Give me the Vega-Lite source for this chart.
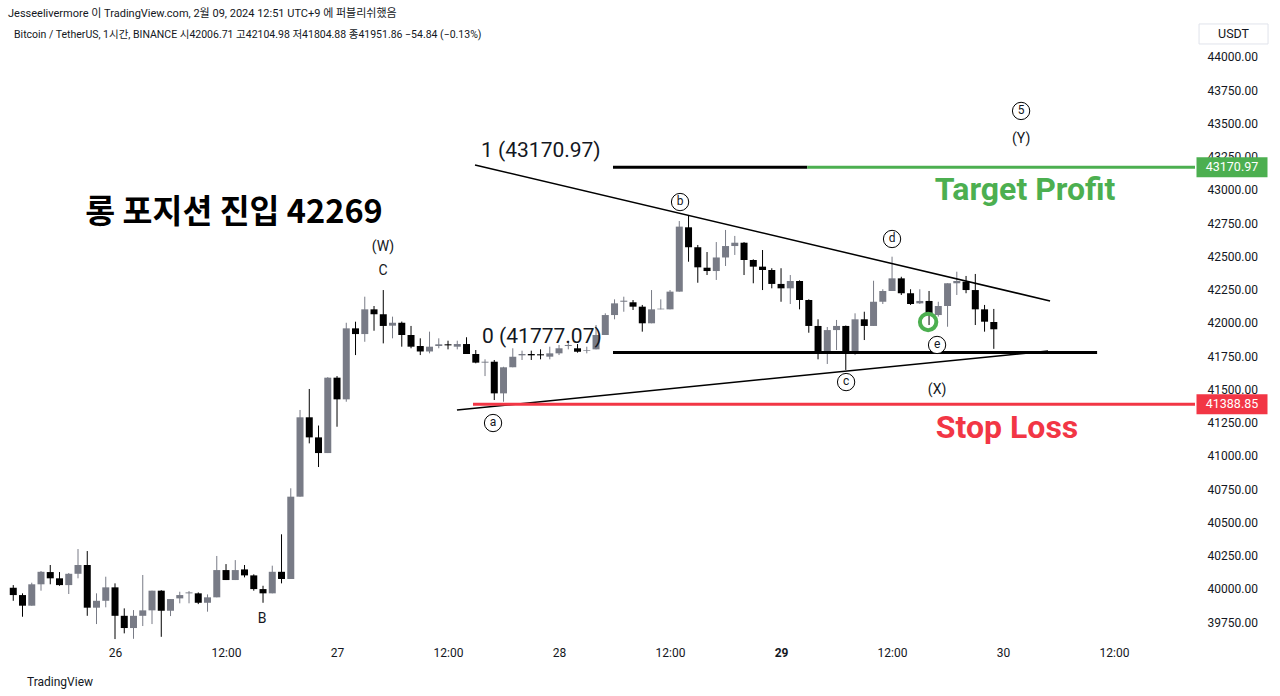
{
  "$schema": "https://vega.github.io/schema/vega-lite/v6.json",
  "width": 1195,
  "height": 620,
  "autosize": {"type": "none"},
  "padding": {"top": 22, "left": 0, "right": 85, "bottom": 54},
  "background": "#ffffff",
  "config": {"font": "Roboto, 'Noto Sans CJK KR', sans-serif", "view": {"stroke": null}, "axis": {"labelOverlap": false}},
  "title": {"text": "Jesseelivermore 이 TradingView.com, 2월 09, 2024 12:51 UTC+9 에 퍼블리쉬했음", "anchor": "start", "frame": "group", "fontSize": 11, "fontWeight": "normal", "color": "#131722", "dx": 8, "offset": 3},
  "datasets": {
    "candles": [
      {"t":"2024-01-25T13:00:00Z","o":40008,"h":40028,"l":39910,"c":39953},
      {"t":"2024-01-25T14:00:00Z","o":39953,"h":39966,"l":39790,"c":39873},
      {"t":"2024-01-25T15:00:00Z","o":39873,"h":40046,"l":39873,"c":40034},
      {"t":"2024-01-25T16:00:00Z","o":40034,"h":40134,"l":39986,"c":40128},
      {"t":"2024-01-25T17:00:00Z","o":40126,"h":40179,"l":40034,"c":40079},
      {"t":"2024-01-25T18:00:00Z","o":40079,"h":40126,"l":40023,"c":40028},
      {"t":"2024-01-25T19:00:00Z","o":40028,"h":40119,"l":39961,"c":40113},
      {"t":"2024-01-25T20:00:00Z","o":40113,"h":40299,"l":40079,"c":40179},
      {"t":"2024-01-25T21:00:00Z","o":40179,"h":40284,"l":39797,"c":39858},
      {"t":"2024-01-25T22:00:00Z","o":39858,"h":39966,"l":39735,"c":39910},
      {"t":"2024-01-25T23:00:00Z","o":39910,"h":40091,"l":39861,"c":40011},
      {"t":"2024-01-26T00:00:00Z","o":40011,"h":40041,"l":39622,"c":39797},
      {"t":"2024-01-26T01:00:00Z","o":39797,"h":39853,"l":39665,"c":39705},
      {"t":"2024-01-26T02:00:00Z","o":39705,"h":39840,"l":39624,"c":39797},
      {"t":"2024-01-26T03:00:00Z","o":39797,"h":40104,"l":39720,"c":39838},
      {"t":"2024-01-26T04:00:00Z","o":39838,"h":39986,"l":39735,"c":39986},
      {"t":"2024-01-26T05:00:00Z","o":39986,"h":39990,"l":39639,"c":39835},
      {"t":"2024-01-26T06:00:00Z","o":39835,"h":39923,"l":39795,"c":39923},
      {"t":"2024-01-26T07:00:00Z","o":39928,"h":39978,"l":39891,"c":39953},
      {"t":"2024-01-26T08:00:00Z","o":39966,"h":39983,"l":39891,"c":39973},
      {"t":"2024-01-26T09:00:00Z","o":39966,"h":39973,"l":39885,"c":39895},
      {"t":"2024-01-26T10:00:00Z","o":39895,"h":39958,"l":39828,"c":39936},
      {"t":"2024-01-26T11:00:00Z","o":39936,"h":40247,"l":39936,"c":40141},
      {"t":"2024-01-26T12:00:00Z","o":40141,"h":40186,"l":40066,"c":40066},
      {"t":"2024-01-26T13:00:00Z","o":40066,"h":40216,"l":40066,"c":40141},
      {"t":"2024-01-26T14:00:00Z","o":40146,"h":40179,"l":40086,"c":40101},
      {"t":"2024-01-26T15:00:00Z","o":40101,"h":40109,"l":39986,"c":39998},
      {"t":"2024-01-26T16:00:00Z","o":39998,"h":40023,"l":39895,"c":39966},
      {"t":"2024-01-26T17:00:00Z","o":39966,"h":40174,"l":39966,"c":40128},
      {"t":"2024-01-26T18:00:00Z","o":40128,"h":40410,"l":40041,"c":40074},
      {"t":"2024-01-26T19:00:00Z","o":40074,"h":40756,"l":40074,"c":40693},
      {"t":"2024-01-26T20:00:00Z","o":40693,"h":41345,"l":40693,"c":41290},
      {"t":"2024-01-26T21:00:00Z","o":41290,"h":41503,"l":41094,"c":41139},
      {"t":"2024-01-26T22:00:00Z","o":41139,"h":41228,"l":40916,"c":41021},
      {"t":"2024-01-26T23:00:00Z","o":41021,"h":41592,"l":41021,"c":41588},
      {"t":"2024-01-27T00:00:00Z","o":41588,"h":41600,"l":41219,"c":41425},
      {"t":"2024-01-27T01:00:00Z","o":41425,"h":42001,"l":41407,"c":41959},
      {"t":"2024-01-27T02:00:00Z","o":41959,"h":42009,"l":41758,"c":41916},
      {"t":"2024-01-27T03:00:00Z","o":41916,"h":42197,"l":41858,"c":42102},
      {"t":"2024-01-27T04:00:00Z","o":42102,"h":42127,"l":41941,"c":42065},
      {"t":"2024-01-27T05:00:00Z","o":42065,"h":42247,"l":41846,"c":41977},
      {"t":"2024-01-27T06:00:00Z","o":41979,"h":42047,"l":41884,"c":42001},
      {"t":"2024-01-27T07:00:00Z","o":42001,"h":42010,"l":41821,"c":41909},
      {"t":"2024-01-27T08:00:00Z","o":41909,"h":41977,"l":41809,"c":41821},
      {"t":"2024-01-27T09:00:00Z","o":41826,"h":41884,"l":41758,"c":41785},
      {"t":"2024-01-27T10:00:00Z","o":41785,"h":41934,"l":41771,"c":41821},
      {"t":"2024-01-27T11:00:00Z","o":41826,"h":41884,"l":41809,"c":41839},
      {"t":"2024-01-27T12:00:00Z","o":41839,"h":41866,"l":41801,"c":41831},
      {"t":"2024-01-27T13:00:00Z","o":41821,"h":41866,"l":41801,"c":41841},
      {"t":"2024-01-27T14:00:00Z","o":41841,"h":41892,"l":41766,"c":41766},
      {"t":"2024-01-27T15:00:00Z","o":41766,"h":41796,"l":41696,"c":41701},
      {"t":"2024-01-27T16:00:00Z","o":41701,"h":41726,"l":41600,"c":41708},
      {"t":"2024-01-27T17:00:00Z","o":41708,"h":41721,"l":41420,"c":41470},
      {"t":"2024-01-27T18:00:00Z","o":41470,"h":41670,"l":41407,"c":41666},
      {"t":"2024-01-27T19:00:00Z","o":41666,"h":41809,"l":41666,"c":41746},
      {"t":"2024-01-27T20:00:00Z","o":41756,"h":41791,"l":41721,"c":41766},
      {"t":"2024-01-27T21:00:00Z","o":41766,"h":41791,"l":41721,"c":41756},
      {"t":"2024-01-27T22:00:00Z","o":41764,"h":41801,"l":41726,"c":41756},
      {"t":"2024-01-27T23:00:00Z","o":41746,"h":41821,"l":41726,"c":41771},
      {"t":"2024-01-28T00:00:00Z","o":41771,"h":41834,"l":41758,"c":41809},
      {"t":"2024-01-28T01:00:00Z","o":41826,"h":41866,"l":41801,"c":41834},
      {"t":"2024-01-28T02:00:00Z","o":41809,"h":41841,"l":41776,"c":41783},
      {"t":"2024-01-28T03:00:00Z","o":41791,"h":41821,"l":41771,"c":41796},
      {"t":"2024-01-28T04:00:00Z","o":41801,"h":41984,"l":41801,"c":41909},
      {"t":"2024-01-28T05:00:00Z","o":41909,"h":42072,"l":41909,"c":42059},
      {"t":"2024-01-28T06:00:00Z","o":42059,"h":42177,"l":42027,"c":42147},
      {"t":"2024-01-28T07:00:00Z","o":42159,"h":42197,"l":42084,"c":42167},
      {"t":"2024-01-28T08:00:00Z","o":42155,"h":42172,"l":42097,"c":42122},
      {"t":"2024-01-28T09:00:00Z","o":42122,"h":42135,"l":41934,"c":41997},
      {"t":"2024-01-28T10:00:00Z","o":41997,"h":42247,"l":41997,"c":42102},
      {"t":"2024-01-28T11:00:00Z","o":42102,"h":42177,"l":42102,"c":42107},
      {"t":"2024-01-28T12:00:00Z","o":42102,"h":42247,"l":42102,"c":42235},
      {"t":"2024-01-28T13:00:00Z","o":42235,"h":42766,"l":42235,"c":42724},
      {"t":"2024-01-28T14:00:00Z","o":42719,"h":42804,"l":42460,"c":42569},
      {"t":"2024-01-28T15:00:00Z","o":42569,"h":42586,"l":42302,"c":42418},
      {"t":"2024-01-28T16:00:00Z","o":42415,"h":42533,"l":42360,"c":42390},
      {"t":"2024-01-28T17:00:00Z","o":42390,"h":42608,"l":42323,"c":42492},
      {"t":"2024-01-28T18:00:00Z","o":42492,"h":42699,"l":42428,"c":42578},
      {"t":"2024-01-28T19:00:00Z","o":42578,"h":42654,"l":42511,"c":42603},
      {"t":"2024-01-28T20:00:00Z","o":42603,"h":42608,"l":42360,"c":42473},
      {"t":"2024-01-28T21:00:00Z","o":42473,"h":42478,"l":42298,"c":42423},
      {"t":"2024-01-28T22:00:00Z","o":42423,"h":42548,"l":42247,"c":42398},
      {"t":"2024-01-28T23:00:00Z","o":42398,"h":42411,"l":42260,"c":42293},
      {"t":"2024-01-29T00:00:00Z","o":42293,"h":42411,"l":42159,"c":42260},
      {"t":"2024-01-29T01:00:00Z","o":42260,"h":42360,"l":42142,"c":42315},
      {"t":"2024-01-29T02:00:00Z","o":42315,"h":42320,"l":42102,"c":42172},
      {"t":"2024-01-29T03:00:00Z","o":42172,"h":42177,"l":41926,"c":41977},
      {"t":"2024-01-29T04:00:00Z","o":41977,"h":42027,"l":41726,"c":41783},
      {"t":"2024-01-29T05:00:00Z","o":41783,"h":41969,"l":41691,"c":41946},
      {"t":"2024-01-29T06:00:00Z","o":41946,"h":42022,"l":41796,"c":41977},
      {"t":"2024-01-29T07:00:00Z","o":41977,"h":41980,"l":41646,"c":41771},
      {"t":"2024-01-29T08:00:00Z","o":41771,"h":42072,"l":41758,"c":42027},
      {"t":"2024-01-29T09:00:00Z","o":42027,"h":42084,"l":41871,"c":41977},
      {"t":"2024-01-29T10:00:00Z","o":41977,"h":42317,"l":41977,"c":42159},
      {"t":"2024-01-29T11:00:00Z","o":42159,"h":42253,"l":42142,"c":42240},
      {"t":"2024-01-29T12:00:00Z","o":42240,"h":42498,"l":42240,"c":42335},
      {"t":"2024-01-29T13:00:00Z","o":42335,"h":42347,"l":42210,"c":42223},
      {"t":"2024-01-29T14:00:00Z","o":42223,"h":42253,"l":42135,"c":42142},
      {"t":"2024-01-29T15:00:00Z","o":42147,"h":42253,"l":42142,"c":42165},
      {"t":"2024-01-29T16:00:00Z","o":42165,"h":42240,"l":41984,"c":42059},
      {"t":"2024-01-29T17:00:00Z","o":42059,"h":42159,"l":42047,"c":42127},
      {"t":"2024-01-29T18:00:00Z","o":42127,"h":42298,"l":41971,"c":42298},
      {"t":"2024-01-29T19:00:00Z","o":42298,"h":42385,"l":42210,"c":42315},
      {"t":"2024-01-29T20:00:00Z","o":42310,"h":42353,"l":42223,"c":42247},
      {"t":"2024-01-29T21:00:00Z","o":42247,"h":42368,"l":41984,"c":42102},
      {"t":"2024-01-29T22:00:00Z","o":42102,"h":42135,"l":41934,"c":42009},
      {"t":"2024-01-29T23:00:00Z","o":42006.71,"h":42104.98,"l":41804.88,"c":41951.86}
    ],
    "levels": [
      {"name":"fib 1","kind":"fib","t1":"2024-01-28T05:50:00Z","t2":"2024-01-29T02:50:00Z","p":43170.97},
      {"name":"target","kind":"target","t1":"2024-01-29T02:50:00Z","t2":"2024-01-30T20:45:00Z","p":43170.97},
      {"name":"fib 0","kind":"fib","t1":"2024-01-28T05:50:00Z","t2":"2024-01-30T10:10:00Z","p":41777.07},
      {"name":"stop","kind":"stop","t1":"2024-01-27T14:42:00Z","t2":"2024-01-30T20:45:00Z","p":41388.85}
    ],
    "trend": [
      {"name":"upper","t1":"2024-01-27T14:55:00Z","p1":43188,"t2":"2024-01-30T05:05:00Z","p2":42165},
      {"name":"lower","t1":"2024-01-27T12:58:00Z","p1":41345,"t2":"2024-01-30T04:52:00Z","p2":41789}
    ],
    "prices": [
      {"kind":"target","t":"2024-01-31T00:45:00Z","p":43170.97,"label":"43170.97"},
      {"kind":"stop","t":"2024-01-31T00:45:00Z","p":41388.85,"label":"41388.85"}
    ],
    "unit": [
      {"t":"2024-01-31T00:55:00Z","p":44173,"label":"USDT"}
    ],
    "labels": [
      {"kind":"big","t":"2024-01-26T12:52:00Z","p":42827,"text":"롱 포지션 진입 42269"},
      {"kind":"wave","t":"2024-01-27T04:58:00Z","p":42571,"text":"(W)"},
      {"kind":"wave","t":"2024-01-27T04:58:00Z","p":42390,"text":"C"},
      {"kind":"wave","t":"2024-01-26T15:54:00Z","p":39773,"text":"B"},
      {"kind":"wave","t":"2024-01-30T01:57:00Z","p":43383,"text":"(Y)"},
      {"kind":"wave","t":"2024-01-29T16:52:00Z","p":41495,"text":"(X)"},
      {"kind":"fib","t":"2024-01-27T15:34:00Z","p":43293,"text":"1 (43170.97)"},
      {"kind":"fib","t":"2024-01-27T15:41:00Z","p":41894,"text":"0 (41777.07)"},
      {"kind":"target","t":"2024-01-30T02:23:00Z","p":43000,"text":"Target Profit"},
      {"kind":"stop","t":"2024-01-30T00:26:00Z","p":41209,"text":"Stop Loss"},
      {"kind":"header","t":"2024-01-25T13:05:00Z","p":44166,"text":"Bitcoin / TetherUS, 1시간, BINANCE  시42006.71  고42104.98  저41804.88  종41951.86  −54.84 (−0.13%)"},
      {"kind":"footer","t":"2024-01-25T14:29:00Z","p":39299,"text":"TradingView"}
    ],
    "circled": [
      {"t":"2024-01-27T16:52:00Z","p":41247,"text":"a"},
      {"t":"2024-01-28T13:05:00Z","p":42909,"text":"b"},
      {"t":"2024-01-29T07:02:00Z","p":41555,"text":"c"},
      {"t":"2024-01-29T12:00:00Z","p":42631,"text":"d"},
      {"t":"2024-01-29T16:52:00Z","p":41834,"text":"e"},
      {"t":"2024-01-30T01:57:00Z","p":43594,"text":"5"}
    ],
    "entry": [
      {"t":"2024-01-29T15:54:00Z","p":42007}
    ]
  },
  "layer": [
    {
      "data": {"name": "candles"},
      "mark": {"type": "rule", "strokeWidth": 1},
      "encoding": {
        "x": {"field": "t", "type": "temporal",
          "scale": {"type": "utc", "padding": 0, "domain": [{"year":2024,"month":1,"date":25,"hours":11,"minutes":34,"utc":true},{"year":2024,"month":1,"date":30,"hours":20,"minutes":45,"utc":true}]},
          "axis": {"orient": "bottom", "title": null, "grid": false, "ticks": false, "domain": false, "tickCount": 40,
            "values": [{"year":2024,"month":1,"date":26,"utc":true},{"year":2024,"month":1,"date":26,"hours":12,"utc":true},{"year":2024,"month":1,"date":27,"utc":true},{"year":2024,"month":1,"date":27,"hours":12,"utc":true},{"year":2024,"month":1,"date":28,"utc":true},{"year":2024,"month":1,"date":28,"hours":12,"utc":true},{"year":2024,"month":1,"date":29,"utc":true},{"year":2024,"month":1,"date":29,"hours":12,"utc":true},{"year":2024,"month":1,"date":30,"utc":true},{"year":2024,"month":1,"date":30,"hours":12,"utc":true}],
            "labelExpr": "utchours(datum.value) == 12 ? '12:00' : '' + utcdate(datum.value)",
            "labelFontWeight": {"condition": {"test": "utcdate(datum.value) == 29 && utchours(datum.value) == 0", "value": "bold"}, "value": "normal"},
            "labelFontSize": 12, "labelColor": "#131722", "labelPadding": 5, "labelFlush": false, "labelOverlap": false}},
        "y": {"field": "l", "type": "quantitative",
          "scale": {"domain": [39600, 44263], "zero": false, "nice": false, "padding": 0},
          "axis": {"orient": "right", "title": null, "tickCount": 40,
            "values": [39750,40000,40250,40500,40750,41000,41250,41500,41750,42000,42250,42500,42750,43000,43250,43500,43750,44000],
            "format": ".2f", "grid": false, "ticks": false, "domain": false, "labelFontSize": 12, "labelColor": "#131722", "labelPadding": 12, "labelFlush": false, "labelOverlap": false, "labelBound": false}},
        "y2": {"field": "h"},
        "color": {"condition": {"test": "datum.c < datum.o", "value": "#000000"}, "value": "#787b86"}
      }
    },
    {
      "data": {"name": "candles"},
      "mark": {"type": "bar", "size": 7},
      "encoding": {
        "x": {"field": "t", "type": "temporal"},
        "y": {"field": "o", "type": "quantitative"},
        "y2": {"field": "c"},
        "color": {"condition": {"test": "datum.c < datum.o", "value": "#000000"}, "value": "#787b86"}
      }
    },
    {
      "data": {"name": "trend"},
      "mark": {"type": "rule", "strokeWidth": 1.5, "color": "#000000"},
      "encoding": {
        "x": {"field": "t1", "type": "temporal"},
        "x2": {"field": "t2"},
        "y": {"field": "p1", "type": "quantitative"},
        "y2": {"field": "p2"}
      }
    },
    {
      "data": {"name": "levels"},
      "mark": {"type": "rule", "strokeWidth": 3},
      "encoding": {
        "x": {"field": "t1", "type": "temporal"},
        "x2": {"field": "t2"},
        "y": {"field": "p", "type": "quantitative"},
        "color": {"field": "kind", "type": "nominal", "scale": {"domain": ["fib", "target", "stop"], "range": ["#000000", "#4caf50", "#f23645"]}, "legend": null}
      }
    },
    {
      "data": {"name": "prices"},
      "mark": {"type": "point", "shape": "M-1,-0.2817H1V0.2817H-1Z", "filled": true, "opacity": 1, "size": 5041},
      "encoding": {
        "x": {"field": "t", "type": "temporal"},
        "y": {"field": "p", "type": "quantitative"},
        "color": {"field": "kind", "type": "nominal", "legend": null}
      }
    },
    {
      "data": {"name": "prices"},
      "mark": {"type": "text", "color": "#ffffff", "fontSize": 12.5, "align": "center", "baseline": "middle"},
      "encoding": {
        "x": {"field": "t", "type": "temporal"},
        "y": {"field": "p", "type": "quantitative"},
        "text": {"field": "label"}
      }
    },
    {
      "data": {"name": "unit"},
      "mark": {"type": "point", "shape": "M-1,-0.29H1V0.29H-1Z", "filled": false, "stroke": "#e0e3eb", "strokeWidth": 1, "opacity": 1, "size": 4761},
      "encoding": {
        "x": {"field": "t", "type": "temporal"},
        "y": {"field": "p", "type": "quantitative"}
      }
    },
    {
      "data": {"name": "unit"},
      "mark": {"type": "text", "color": "#131722", "fontSize": 12.5, "align": "center", "baseline": "middle"},
      "encoding": {
        "x": {"field": "t", "type": "temporal"},
        "y": {"field": "p", "type": "quantitative"},
        "text": {"field": "label"}
      }
    },
    {
      "data": {"name": "labels"},
      "transform": [{"filter": "datum.kind == 'big'"}],
      "mark": {"type": "text", "fontSize": 32.5, "fontWeight": "bold", "color": "#000000", "align": "center", "baseline": "middle", "font": "'Noto Sans CJK KR', sans-serif"},
      "encoding": {"x": {"field": "t", "type": "temporal"}, "y": {"field": "p", "type": "quantitative"}, "text": {"field": "text"}}
    },
    {
      "data": {"name": "labels"},
      "transform": [{"filter": "datum.kind == 'target'"}],
      "mark": {"type": "text", "fontSize": 32, "fontWeight": "bold", "color": "#4caf50", "align": "center", "baseline": "middle"},
      "encoding": {"x": {"field": "t", "type": "temporal"}, "y": {"field": "p", "type": "quantitative"}, "text": {"field": "text"}}
    },
    {
      "data": {"name": "labels"},
      "transform": [{"filter": "datum.kind == 'stop'"}],
      "mark": {"type": "text", "fontSize": 32, "fontWeight": "bold", "color": "#f23645", "align": "center", "baseline": "middle"},
      "encoding": {"x": {"field": "t", "type": "temporal"}, "y": {"field": "p", "type": "quantitative"}, "text": {"field": "text"}}
    },
    {
      "data": {"name": "labels"},
      "transform": [{"filter": "datum.kind == 'fib'"}],
      "mark": {"type": "text", "fontSize": 21, "color": "#131722", "align": "left", "baseline": "middle"},
      "encoding": {"x": {"field": "t", "type": "temporal"}, "y": {"field": "p", "type": "quantitative"}, "text": {"field": "text"}}
    },
    {
      "data": {"name": "labels"},
      "transform": [{"filter": "datum.kind == 'wave'"}],
      "mark": {"type": "text", "fontSize": 14, "color": "#131722", "align": "center", "baseline": "middle"},
      "encoding": {"x": {"field": "t", "type": "temporal"}, "y": {"field": "p", "type": "quantitative"}, "text": {"field": "text"}}
    },
    {
      "data": {"name": "labels"},
      "transform": [{"filter": "datum.kind == 'header'"}],
      "mark": {"type": "text", "fontSize": 10.5, "color": "#131722", "align": "left", "baseline": "middle"},
      "encoding": {"x": {"field": "t", "type": "temporal"}, "y": {"field": "p", "type": "quantitative"}, "text": {"field": "text"}}
    },
    {
      "data": {"name": "labels"},
      "transform": [{"filter": "datum.kind == 'footer'"}],
      "mark": {"type": "text", "fontSize": 12, "color": "#131722", "align": "left", "baseline": "middle"},
      "encoding": {"x": {"field": "t", "type": "temporal"}, "y": {"field": "p", "type": "quantitative"}, "text": {"field": "text"}}
    },
    {
      "data": {"name": "circled"},
      "mark": {"type": "point", "shape": "circle", "size": 300, "filled": false, "fill": "#ffffff", "fillOpacity": 1, "stroke": "#000000", "strokeWidth": 1, "opacity": 1},
      "encoding": {"x": {"field": "t", "type": "temporal"}, "y": {"field": "p", "type": "quantitative"}}
    },
    {
      "data": {"name": "circled"},
      "mark": {"type": "text", "fontSize": 12, "color": "#131722", "align": "center", "baseline": "middle", "dy": -1},
      "encoding": {"x": {"field": "t", "type": "temporal"}, "y": {"field": "p", "type": "quantitative"}, "text": {"field": "text"}}
    },
    {
      "data": {"name": "entry"},
      "mark": {"type": "point", "shape": "circle", "size": 270, "filled": false, "stroke": "#4caf50", "strokeWidth": 4, "opacity": 1},
      "encoding": {"x": {"field": "t", "type": "temporal"}, "y": {"field": "p", "type": "quantitative"}}
    }
  ]
}
